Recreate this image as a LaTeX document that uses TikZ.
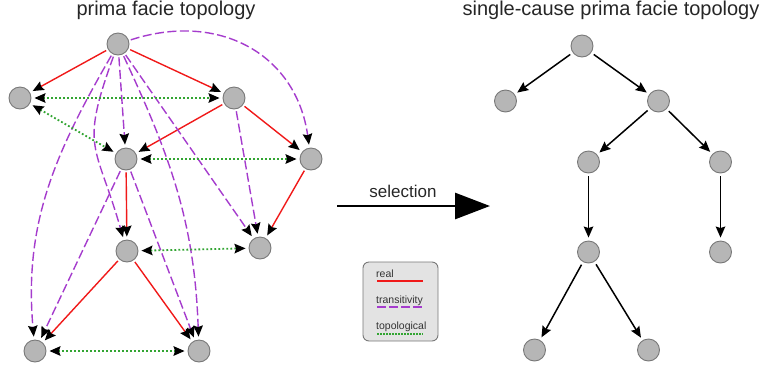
\documentclass[tikz,border=0pt]{standalone}
\usepackage{fontspec}
\setmainfont{Liberation Sans}
\usetikzlibrary{trees,arrows.meta}

\definecolor{realred}{RGB}{240,25,25}
\definecolor{transpurple}{RGB}{165,60,205}
\definecolor{topogreen}{RGB}{50,165,50}
\definecolor{nodegray}{RGB}{182,182,182}
\definecolor{rimgray}{RGB}{120,120,120}

\begin{document}
\begin{tikzpicture}[x=1pt,y=-1pt,
  >={Stealth[length=11pt,width=9.5pt,inset=1.5pt,black]},
  dot/.style={circle,draw=rimgray,fill=nodegray,line width=0.9pt,minimum size=22pt,inner sep=0pt},
  real/.style={->,draw=realred,line width=1.4pt,shorten >=3pt,shorten <=2pt},
  trans/.style={->,draw=transpurple,line width=1.4pt,dash pattern=on 9pt off 3.5pt,shorten >=3pt,shorten <=2pt},
  topo/.style={<->,draw=topogreen,line width=1.8pt,dash pattern=on 1.8pt off 2.2pt,shorten >=3pt,shorten <=3pt},
  sel/.style={->,line width=1.5pt,shorten >=3pt,shorten <=3pt},
  title/.style={font=\fontsize{20}{24}\selectfont,text=black!85,anchor=base},
  legtext/.style={font=\fontsize{10.5}{12}\selectfont,text=black!80,anchor=base west,inner sep=0pt}]
\useasboundingbox (0,0) rectangle (761,368);

\node[title] (lefttitle) at (166,15) {prima facie topology};
\node[title] (righttitle) at (611,15.5) {single-cause prima facie topology};

% prima facie graph
\node[dot] (a) at (118,44) {};
\node[dot] (b) at (20,98) {};
\node[dot] (c) at (234,98) {};
\node[dot] (d) at (126,159) {};
\node[dot] (e) at (311,159) {};
\node[dot] (f) at (127,251) {};
\node[dot] (g) at (260,248) {};
\node[dot] (h) at (35,351) {};
\node[dot] (i) at (199,351) {};

\foreach \s/\t in {a/b,a/c,c/d,c/e,d/f,e/g,f/h,f/i}
  \draw[real] (\s) -- (\t);

\draw[trans] (a) to[out=18,in=98,looseness=1.15] (e);
\draw[trans] (a) to[out=250,in=106,looseness=1.4] (f);
\draw[trans] (a) to[out=240,in=95] (h);
\draw[trans] (a) to[out=295,in=92] (i);
\foreach \s/\t in {a/d,a/g,c/g,d/h,d/i}
  \draw[trans] (\s) -- (\t);

\foreach \s/\t in {b/c,b/d,d/e,f/g,h/i}
  \draw[topo] (\s) -- (\t);

% selection arrow
\coordinate (selfrom) at (337,206);
\coordinate (selto) at (490,206);
\draw[line width=2.8pt,-{Triangle[length=35pt,width=26pt]}] (selfrom) -- (selto);
\node[font=\fontsize{17}{20}\selectfont,text=black!85,anchor=base] (sellabel) at (403,197) {selection};

% legend
\node[draw=rimgray,fill=black!11,rounded corners=6pt,line width=0.9pt,
  minimum width=75pt,minimum height=79pt] (legend) at (400.5,301.5) {};
\node[legtext] (lreal) at (376,277) {real};
\node[legtext] (ltrans) at (376,303) {transitivity};
\node[legtext] (ltopo) at (376,329) {topological};
\draw[realred,line width=1.4pt] (lreal.base west) ++(1,4) -- ++(46,0);
\draw[transpurple,line width=1.4pt,dash pattern=on 9pt off 3pt] (ltrans.base west) ++(1,4) -- ++(46,0);
\draw[topogreen,line width=1.4pt,dash pattern=on 1.5pt off 1.5pt] (ltopo.base west) ++(1,5) -- ++(46,0);

% single-cause tree
\begin{scope}[grow=down,
  level 1/.style={level distance=55pt,sibling distance=153pt},
  level 2/.style={level distance=61pt,sibling distance=132pt},
  level 3/.style={level distance=90pt},
  level 4/.style={level distance=98pt,sibling distance=114pt},
  edge from parent/.style={draw,sel}]
  \node[dot] (r0) at (582,46) {}
    child {node[dot] (r1) {}}
    child {node[dot] (r2) {}
      child[xshift=-4pt] {node[dot] (r3) {}
        child {node[dot] (r5) {}
          child[xshift=3pt] {node[dot] (r7) {}}
          child[xshift=3pt] {node[dot] (r8) {}}
        }
      }
      child[xshift=-4pt] {node[dot] (r4) {}
        child {node[dot] (r6) {}}
      }
    };
\end{scope}
\end{tikzpicture}
\end{document}
